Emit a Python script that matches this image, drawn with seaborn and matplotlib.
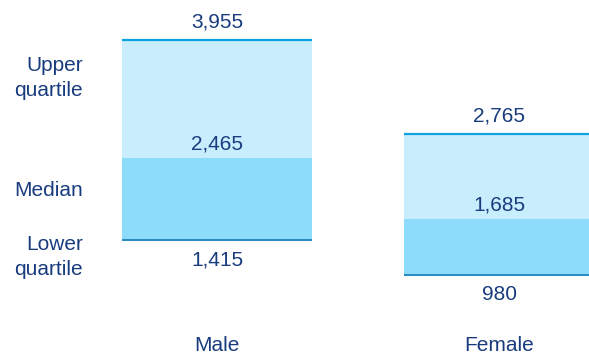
import matplotlib
matplotlib.use("Agg")
import matplotlib.pyplot as plt
import seaborn as sns
import pandas as pd

# Earnings quartiles by sex
groups = ["Male", "Female"]
lower_quartile = [1415, 980]
median = [2465, 1685]
upper_quartile = [3955, 2765]
value_labels_upper = ["3,955", "2,765"]
value_labels_median = ["2,465", "1,685"]
value_labels_lower = ["1,415", "980"]
row_labels = ["Upper\nquartile", "Median", "Lower\nquartile"]

LIGHT = "#C8EDFD"
DARK = "#8EDCFC"
TOP_LINE = "#0BA2E0"
BOTTOM_LINE = "#2B8DC0"
TEXT = "#193C7E"

sns.set_theme(style="white")
plt.rcParams["font.family"] = ["Liberation Sans", "DejaVu Sans"]

df = pd.DataFrame({"group": groups, "lower": lower_quartile,
                   "median": median, "upper": upper_quartile})

fig = plt.figure(figsize=(5.89, 3.54), dpi=100)
ax = fig.add_axes([0, 0, 1, 1])
bar_w = 0.674

# Layered bars: upper band, lower band, then blank below the lower quartile
sns.barplot(data=df, x="group", y="upper", color=LIGHT, width=bar_w,
            saturation=1, ax=ax, edgecolor="none")
sns.barplot(data=df, x="group", y="median", color=DARK, width=bar_w,
            saturation=1, ax=ax, edgecolor="none")
sns.barplot(data=df, x="group", y="lower", color="white", width=bar_w,
            saturation=1, ax=ax, edgecolor="none")

for i in range(len(groups)):
    ax.hlines(upper_quartile[i], i - bar_w / 2, i + bar_w / 2,
              color=TOP_LINE, lw=1.6, zorder=5)
    ax.hlines(lower_quartile[i], i - bar_w / 2, i + bar_w / 2,
              color=BOTTOM_LINE, lw=1.5, zorder=5)
    ax.annotate(value_labels_upper[i], (i, upper_quartile[i]),
                xytext=(0, 13), textcoords="offset points",
                ha="center", va="center", fontsize=15, color=TEXT)
    ax.annotate(value_labels_median[i], (i, median[i]),
                xytext=(0, 10), textcoords="offset points",
                ha="center", va="center", fontsize=15, color=TEXT)
    ax.annotate(value_labels_lower[i], (i, lower_quartile[i]),
                xytext=(0, -14), textcoords="offset points",
                ha="center", va="center", fontsize=15, color=TEXT)
    ax.text(i, 0.025, groups[i], transform=ax.get_xaxis_transform(),
            ha="center", va="center", fontsize=15, color=TEXT)

row_y = [1 - 78 / 354, 1 - 190 / 354, 1 - 257 / 354]
for lbl, y in zip(row_labels, row_y):
    fig.text(83 / 589, y, lbl, ha="right", va="center", fontsize=15,
             color=TEXT, linespacing=1.4)

ax.set_xlim(-217 / 282, (589 - 217) / 282)
ax.set_ylim(-26.7, 4469)
ax.set_axis_off()

fig.savefig("out.png", dpi=100)
